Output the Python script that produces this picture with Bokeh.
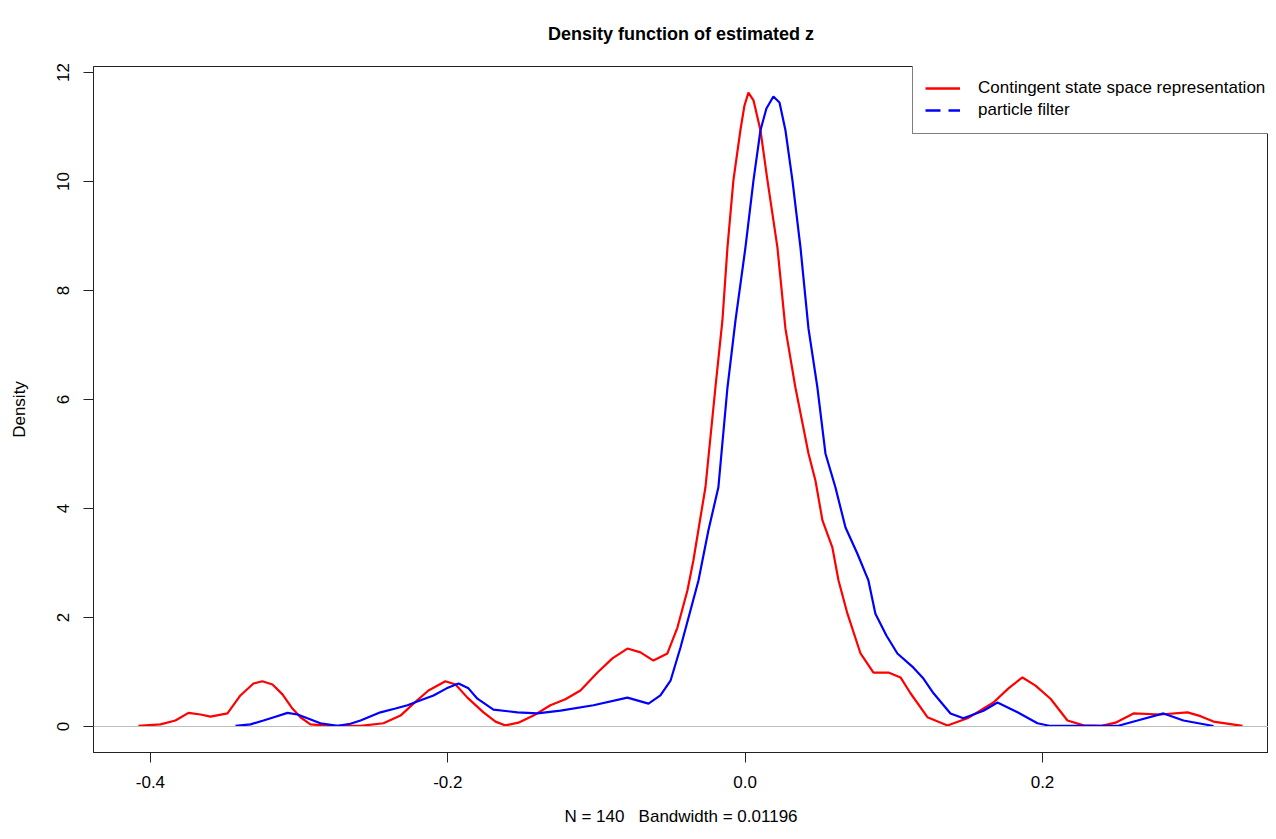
from bokeh.plotting import figure
from bokeh.models import Range1d, FixedTicker, Span, Legend, LegendItem
from bokeh.embed import file_html
from bokeh.resources import INLINE

# ---- data ----
red_x = [-0.4081, -0.3933, -0.3832, -0.3744, -0.3663, -0.3596, -0.3482, -0.3395, -0.3307, -0.3247,
         -0.3179, -0.3112, -0.3045, -0.2991, -0.2924, -0.2789, -0.2587, -0.2433, -0.2318, -0.2231,
         -0.2130, -0.2016, -0.1948, -0.1868, -0.1760, -0.1679, -0.1612, -0.1525, -0.1424, -0.1310,
         -0.1209, -0.1108, -0.0993, -0.0893, -0.0792, -0.0704, -0.0617, -0.0523, -0.0455, -0.0388,
         -0.0348, -0.0301, -0.0267, -0.0200, -0.0153, -0.0119, -0.0079, -0.0032, -0.0005, 0.0022,
         0.0056, 0.0103, 0.0150, 0.0217, 0.0271, 0.0338, 0.0426, 0.0473, 0.0520, 0.0587,
         0.0628, 0.0688, 0.0776, 0.0863, 0.0964, 0.1045, 0.1112, 0.1226, 0.1361, 0.1495,
         0.1670, 0.1771, 0.1865, 0.1953, 0.2054, 0.2168, 0.2276, 0.2390, 0.2491, 0.2612,
         0.2793, 0.2975, 0.3063, 0.3150, 0.3345]
red_y = [0.01, 0.04, 0.11, 0.25, 0.22, 0.18, 0.24, 0.57, 0.79, 0.83,
         0.77, 0.59, 0.33, 0.17, 0.04, 0.01, 0.01, 0.06, 0.20, 0.42,
         0.66, 0.83, 0.77, 0.53, 0.26, 0.09, 0.02, 0.07, 0.20, 0.39,
         0.50, 0.66, 0.99, 1.25, 1.43, 1.36, 1.21, 1.34, 1.82, 2.50,
         3.05, 3.83, 4.39, 6.22, 7.45, 8.79, 10.02, 10.94, 11.39, 11.63,
         11.49, 10.94, 10.02, 8.79, 7.30, 6.22, 5.01, 4.51, 3.78, 3.28,
         2.68, 2.07, 1.34, 0.99, 0.99, 0.90, 0.61, 0.17, 0.02, 0.15,
         0.44, 0.70, 0.90, 0.75, 0.51, 0.11, 0.02, 0.01, 0.07, 0.24,
         0.22, 0.26, 0.19, 0.09, 0.01]

blue_x = [-0.3428, -0.3327, -0.3240, -0.3159, -0.3078, -0.3011, -0.2944, -0.2857, -0.2742, -0.2655,
          -0.2587, -0.2453, -0.2352, -0.2271, -0.2183, -0.2096, -0.2008, -0.1928, -0.1861, -0.1801,
          -0.1693, -0.1532, -0.1397, -0.1242, -0.1020, -0.0792, -0.0650, -0.0570, -0.0502, -0.0435,
          -0.0368, -0.0314, -0.0247, -0.0180, -0.0119, -0.0065, 0.0002, 0.0056, 0.0103, 0.0143,
          0.0190, 0.0231, 0.0271, 0.0318, 0.0372, 0.0426, 0.0486, 0.0540, 0.0607, 0.0675,
          0.0755, 0.0829, 0.0876, 0.0950, 0.1024, 0.1132, 0.1199, 0.1267, 0.1381, 0.1468,
          0.1603, 0.1697, 0.1832, 0.1966, 0.2054, 0.2504, 0.2639, 0.2814, 0.2948, 0.3150]
blue_y = [0.01, 0.04, 0.11, 0.18, 0.25, 0.22, 0.15, 0.06, 0.01, 0.05,
          0.11, 0.26, 0.33, 0.39, 0.48, 0.57, 0.70, 0.79, 0.70, 0.51,
          0.31, 0.26, 0.24, 0.29, 0.39, 0.53, 0.42, 0.57, 0.84, 1.45,
          2.13, 2.68, 3.60, 4.39, 6.22, 7.45, 8.79, 10.02, 10.94, 11.34,
          11.56, 11.45, 10.94, 10.02, 8.79, 7.30, 6.22, 5.01, 4.39, 3.65,
          3.17, 2.68, 2.07, 1.67, 1.34, 1.08, 0.88, 0.61, 0.24, 0.15,
          0.29, 0.44, 0.26, 0.06, 0.01, 0.01, 0.11, 0.24, 0.11, 0.01]

x_ticks = [-0.4, -0.2, 0.0, 0.2]
x_tick_labels = ["-0.4", "-0.2", "0.0", "0.2"]
y_ticks = [0, 2, 4, 6, 8, 10, 12]
y_tick_labels = ["0", "2", "4", "6", "8", "10", "12"]

series_names = ["Contingent state space representation", "particle filter"]
title_text = "Density function of estimated z"
x_label = "N = 140\u00a0\u00a0\u00a0Bandwidth = 0.01196"
y_label = "Density"

FONT = "Liberation Sans"

p = figure(width=1268, height=831, output_backend="svg", toolbar_location=None,
           x_range=Range1d(-0.4383, 0.352), y_range=Range1d(-0.477, 12.11),
           min_border_left=93, min_border_right=0, min_border_top=66, min_border_bottom=79)

xax = p.below[0]
yax = p.left[0]

p.background_fill_color = "white"
p.border_fill_color = "white"
p.outline_line_color = "#222222"
p.outline_line_width = 1
p.xgrid.visible = False
p.ygrid.visible = False

p.title.text = title_text
p.title.text_font = FONT
p.title.text_font_size = "18px"
p.title.text_font_style = "bold"
p.title.text_color = "black"
p.title.align = "center"
p.title.vertical_align = "top"
p.title.standoff = 42

for ax in (xax, yax):
    ax.axis_line_color = "#222222"
    ax.major_tick_line_color = "#222222"
    ax.major_tick_out = 10
    ax.major_tick_in = 0
    ax.minor_tick_out = 0
    ax.minor_tick_in = 0
    ax.major_label_text_font = FONT
    ax.major_label_text_font_size = "17px"
    ax.major_label_text_color = "black"
    ax.axis_label_text_font = FONT
    ax.axis_label_text_font_size = "17px"
    ax.axis_label_text_font_style = "normal"
    ax.axis_label_text_color = "black"

xax.ticker = FixedTicker(ticks=x_ticks)
xax.major_label_overrides = dict(zip(x_ticks, x_tick_labels))
xax.axis_label = x_label
xax.major_label_standoff = 13
xax.axis_label_standoff = 16

yax.ticker = FixedTicker(ticks=y_ticks)
yax.major_label_overrides = dict(zip(y_ticks, y_tick_labels))
yax.major_label_orientation = "vertical"
yax.axis_label = y_label
yax.major_label_standoff = 14
yax.axis_label_standoff = 26

p.add_layout(Span(location=0, dimension="width", line_color="#BEBEBE", line_width=1))

r_red = p.line(red_x, red_y, line_color="#FF0000", line_width=2.2)
r_blue = p.line(blue_x, blue_y, line_color="#0000FF", line_width=2.2)
# legend samples (a single point draws no visible line on the plot)
r_red_leg = p.line(red_x[:1], red_y[:1], line_color="#FF0000", line_width=2.6)
r_blue_leg = p.line(blue_x[:1], blue_y[:1], line_color="#0000FF", line_width=2.6, line_dash="15 8")

legend = Legend(items=[LegendItem(label=series_names[0], renderers=[r_red_leg]),
                       LegendItem(label=series_names[1], renderers=[r_blue_leg])],
                location=(819, 618), margin=0, padding=12, spacing=0,
                glyph_width=35, glyph_height=22, label_height=22, label_standoff=18,
                label_text_font=FONT, label_text_font_size="17px", label_text_color="black",
                border_line_color="black", border_line_width=1,
                background_fill_color="white", background_fill_alpha=1.0)
p.add_layout(legend)

open("out.html", "w").write(file_html(p, INLINE))
